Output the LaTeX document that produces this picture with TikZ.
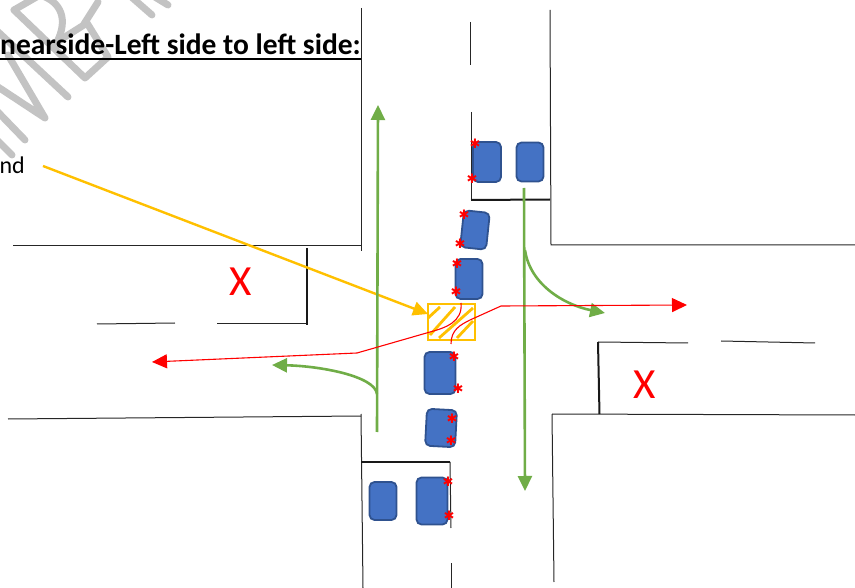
\documentclass[tikz,border=0pt]{standalone}
\usepackage{fontspec}
\setmainfont{Carlito}
\newfontfamily\markfont{DejaVu Sans}
\usetikzlibrary{arrows.meta}
\definecolor{carfill}{HTML}{4472C4}
\definecolor{caredge}{HTML}{2F528F}
\definecolor{routegreen}{HTML}{70AD47}
\definecolor{routeyellow}{HTML}{FFC000}
\definecolor{markgray}{HTML}{C3C3C3}
\tikzset{
  road/.style={line width=1pt,black!85},
  stopline/.style={line width=2pt,black!90},
  car/.style={draw=caredge,fill=carfill,line width=1.8pt,rounded corners=5pt,inner sep=0pt},
  carmark/.style={text=red,inner sep=0pt,font=\markfont\fontsize{13}{13}\selectfont},
  greenroute/.style={routegreen,line width=2.6pt},
  greentip/.style={greenroute,-{Triangle[length=15pt,width=14pt]}},
  redroute/.style={red,line width=1.1pt},
  redtip/.style={redroute,-{Triangle[length=15pt,width=14pt]}},
  hatchline/.style={routeyellow,line width=2.8pt},
  notallowed/.style={text=red,font=\fontsize{43}{43}\selectfont,inner sep=0pt},
  watermark/.style={markgray,line width=7pt,line cap=round,line join=round}
}
\begin{document}
\begin{tikzpicture}[x=1pt,y=-1pt]
\useasboundingbox (0,0) rectangle (855,588);
% watermark
\draw[watermark] (-5,29) -- (68,97);
\draw[watermark] (-5,85) -- (45,118) -- (8,55);
\draw[watermark] (-5,109) -- (25,140);
\draw[watermark] (-5,138) -- (12,155);
\draw[watermark] (14,10) -- (85,78) -- (108,57) -- (87,23) -- (57,42);
\draw[watermark] (14,10) -- (40,-5) .. controls (62,2) and (68,20) .. (57,42);
\draw[watermark] (98,2) -- (84,24);
\draw[watermark] (128,-6) -- (152,15);
\draw[watermark] (150,-6) -- (168,5);
% text
\node[anchor=base east,inner sep=0pt,font=\fontsize{29.5}{30}\selectfont\bfseries] (title) at (361,55) {nearside-Left side to left side:};
\node[anchor=base east,inner sep=0pt,font=\fontsize{24}{24}\selectfont] (cutoff) at (25,174) {nd};
\draw[line width=1.2pt] (0,59) -- (362,59);
% roads
\draw[road] (13,246) -- (361,246);
\draw[road] (361,8) -- (361,251);
\draw[road] (8,419) -- (361,416);
\draw[road] (361,414) -- (363,588);
\draw[road] (470,22) -- (470,65);
\draw[road] (471,112) -- (471,200);
\draw[road] (550,10) -- (551,245) -- (855,245);
\draw[road] (552,414) -- (855,415);
\draw[road] (552,414) -- (554,582);
\draw[road] (450,462) -- (451,528);
\draw[road] (451,563) -- (451,588);
\draw[road] (97,324) -- (175,323);
\draw[road] (217,324) -- (307,324);
\draw[road] (598,342) -- (688,343);
\draw[road] (721,341) -- (815,343);
\draw[stopline] (307,248) -- (307,325);
\draw[stopline] (471,200) -- (550,199.5);
\draw[stopline] (361,461.5) -- (450,461.5);
\draw[stopline] (598,342) -- (599.5,414);
% cars
\node[car,minimum width=28pt,minimum height=40pt] (carA) at (487,162) {};
\node[car,minimum width=27pt,minimum height=39pt] (carB) at (530,162) {};
\node[car,minimum width=26pt,minimum height=37pt,rotate=-6] (carC) at (475,230) {};
\node[car,minimum width=27pt,minimum height=40pt] (carD) at (469,279) {};
\node[car,minimum width=31pt,minimum height=42pt] (carE) at (440,373) {};
\node[car,minimum width=30pt,minimum height=37pt,rotate=-3] (carF) at (441,428) {};
\node[car,minimum width=27pt,minimum height=38pt] (carG) at (383,501) {};
\node[car,minimum width=31pt,minimum height=47pt] (carH) at (432,501) {};
% indicators
\node[carmark] (ma) at (475,144) {✱};
\node[carmark] (mb) at (472,179) {✱};
\node[carmark] (mc) at (464,215) {✱};
\node[carmark] (md) at (460,244) {✱};
\node[carmark] (me) at (457,264) {✱};
\node[carmark] (mf) at (456,292) {✱};
\node[carmark] (mg) at (454,357) {✱};
\node[carmark] (mh) at (458,389) {✱};
\node[carmark] (mi) at (452,419) {✱};
\node[carmark] (mj) at (451,441) {✱};
\node[carmark] (mk) at (448,482) {✱};
\node[carmark] (ml) at (449,516) {✱};
% conflict box
\node[draw=routeyellow,line width=2.8pt,minimum width=47pt,minimum height=36pt,inner sep=0pt] (hatch) at (451.5,322) {};
\draw[hatchline] (428,318) -- (440,307);
\draw[hatchline] (430,335) -- (455,307);
\draw[hatchline] (439,338) -- (473,308);
\draw[hatchline] (457,338) -- (473,321);
\coordinate (callout) at (43,166);
\coordinate (calloutend) at (428,314);
\draw[routeyellow,line width=2.4pt,-{Triangle[length=15pt,width=14pt]}] (callout) -- (calloutend);
% routes
\coordinate (upstart) at (377,432);
\coordinate (upend) at (378,105);
\coordinate (upsplit) at (377,394);
\coordinate (leftend) at (272,365);
\coordinate (downstart) at (524,188);
\coordinate (downend) at (525,491);
\coordinate (downsplit) at (525,250);
\coordinate (rightend) at (605,313);
\draw[greentip] (upstart) -- (upend);
\draw[greentip] (upsplit) .. controls (375,376) and (320,366) .. (leftend);
\draw[greentip] (downstart) -- (downend);
\draw[greentip] (downsplit) .. controls (530,285) and (565,305) .. (rightend);
\coordinate (redA) at (461,303);
\coordinate (redB) at (357,353);
\coordinate (redC) at (152,362);
\coordinate (redD) at (451,344);
\coordinate (redE) at (501,306);
\coordinate (redF) at (687,305);
\draw[redtip] (redA) .. controls (463,322) and (445,328) .. (430,332) -- (redB) -- (redC);
\draw[redtip] (redD) .. controls (451,330) and (460,325) .. (470,320) -- (redE) -- (redF);
% closed arms
\node[notallowed] (xleft) at (241,282) {X};
\node[notallowed] (xright) at (645,385) {X};
\end{tikzpicture}
\end{document}
